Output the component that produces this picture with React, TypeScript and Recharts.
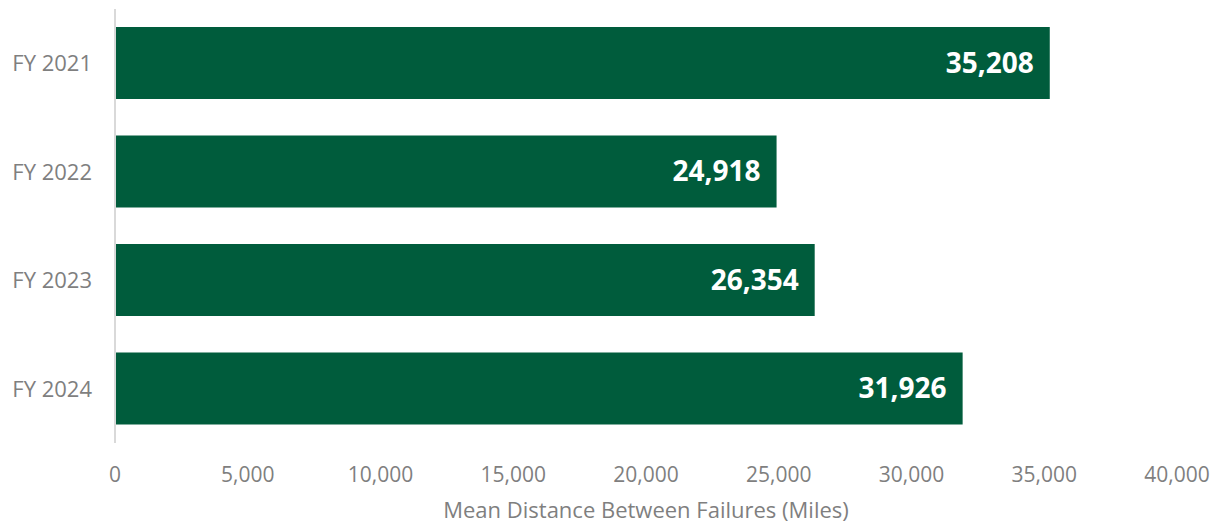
import React from "react";
import { BarChart, Bar, XAxis, YAxis, LabelList } from "recharts";

const categories = ["FY 2021", "FY 2022", "FY 2023", "FY 2024"];
const values = [35208, 24918, 26354, 31926];
const xTicks = [0, 5000, 10000, 15000, 20000, 25000, 30000, 35000, 40000];
const axisTitle = "Mean Distance Between Failures (Miles)";

const data = categories.map((c, i) => ({ name: c, value: values[i] }));

const FONT = "Open Sans, Roboto, sans-serif";
const GREY = "#7f7f7f";

export default function App() {
  return (
    <div style={{ width: 1210, height: 519, fontFamily: FONT }}>
      <BarChart
        width={1210}
        height={519}
        data={data}
        layout="vertical"
        margin={{ top: 1, right: 41, bottom: 0, left: 0 }}
        barSize={72}
      >
        <XAxis
          type="number"
          domain={[0, 40000]}
          ticks={xTicks}
          interval={0}
          tickFormatter={(v: number) => v.toLocaleString("en-US")}
          axisLine={false}
          tickLine={false}
          tickSize={0}
          tickMargin={24}
          height={84}
          tick={{ fill: GREY, fontSize: 21, fontFamily: FONT }}
          label={{
            value: axisTitle,
            position: "insideBottom",
            offset: 9,
            fill: GREY,
            fontSize: 22,
            fontFamily: FONT,
          }}
        />
        <YAxis
          type="category"
          dataKey="name"
          width={107}
          axisLine={{ stroke: "#d9d9d9", strokeWidth: 2 }}
          tickLine={false}
          tickSize={0}
          tickMargin={23}
          tick={{ fill: GREY, fontSize: 22, fontFamily: FONT }}
        />
        <Bar dataKey="value" fill="#005C3C" isAnimationActive={false}>
          <LabelList
            dataKey="value"
            position="insideRight"
            offset={16}
            formatter={(v: number) => v.toLocaleString("en-US")}
            fill="#ffffff"
            style={{ fontSize: 28, fontWeight: 700, fontFamily: FONT }}
          />
        </Bar>
      </BarChart>
    </div>
  );
}
